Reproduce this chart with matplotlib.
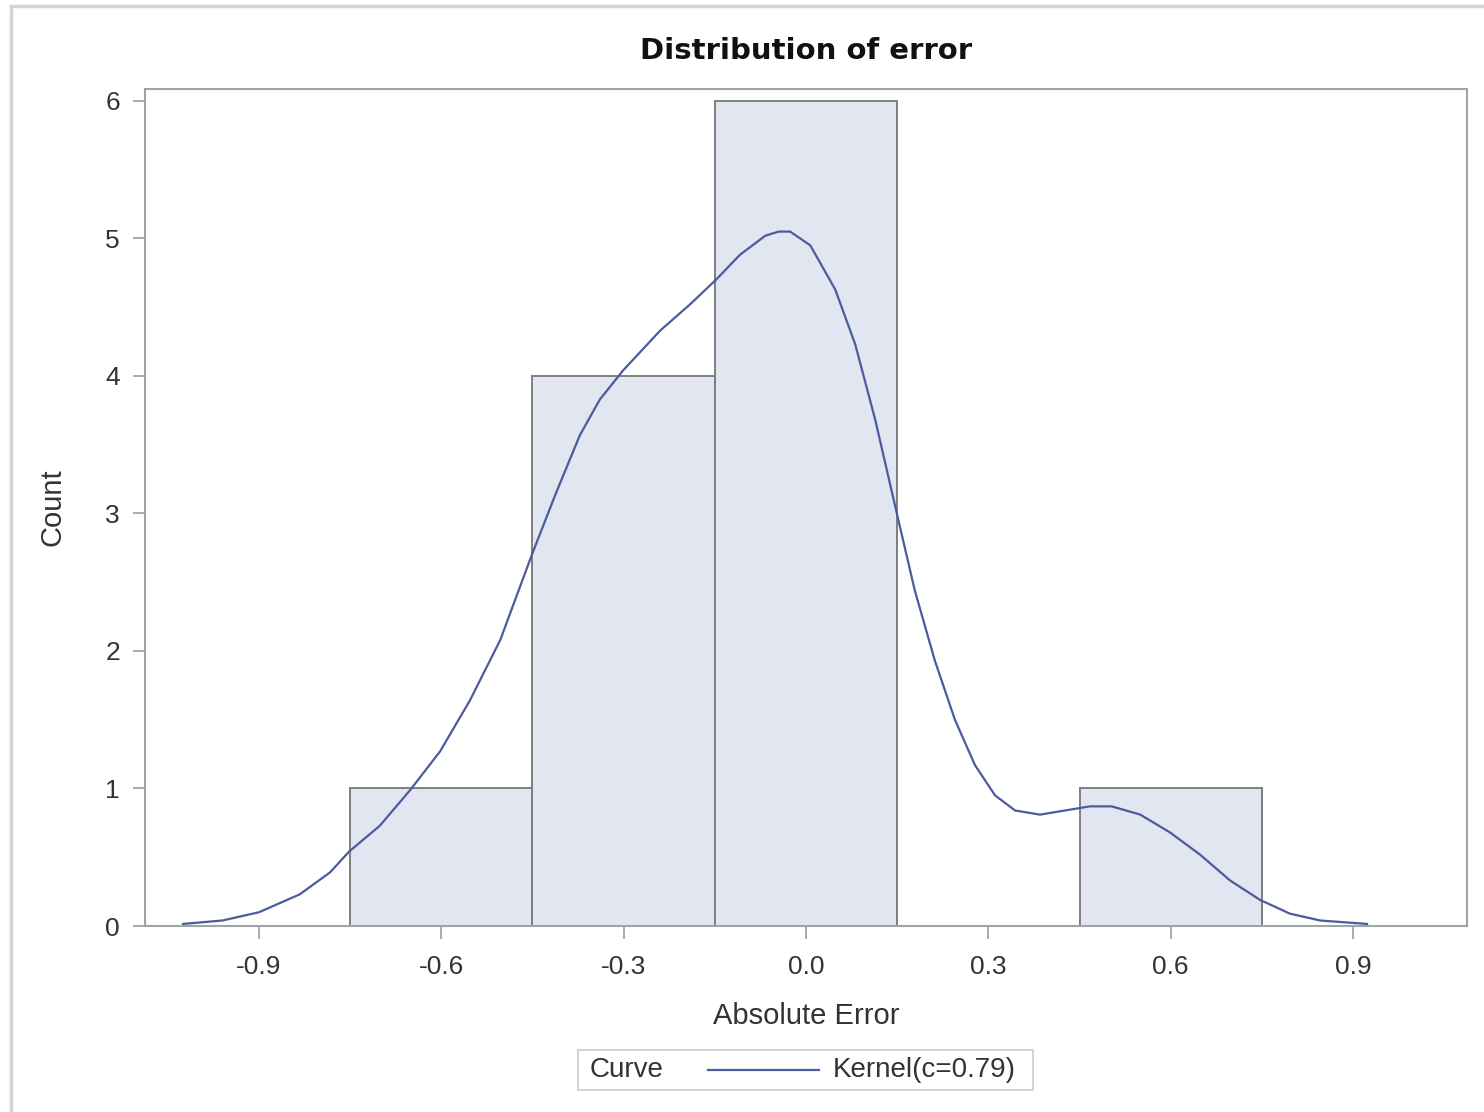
import matplotlib
matplotlib.use("Agg")
import matplotlib.pyplot as plt
from matplotlib.patches import Rectangle
from matplotlib.lines import Line2D

plt.rcParams['font.family'] = ['Liberation Sans', 'DejaVu Sans']

# Histogram data
bin_left = [-0.75, -0.45, -0.15, 0.15, 0.45]
bin_width = 0.3
counts = [1, 4, 6, 0, 1]

# Kernel density curve (scaled to counts)
kx = [-1.025, -0.96, -0.9, -0.833, -0.783, -0.752, -0.701, -0.651, -0.602, -0.553,
      -0.503, -0.451, -0.413, -0.372, -0.339, -0.301, -0.240, -0.191, -0.148, -0.109,
      -0.067, -0.045, -0.026, 0.007, 0.048, 0.081, 0.114, 0.150, 0.179, 0.212, 0.245,
      0.278, 0.311, 0.344, 0.385, 0.426, 0.467, 0.503, 0.550, 0.599, 0.648, 0.698,
      0.747, 0.796, 0.846, 0.923]
ky = [0.015, 0.04, 0.10, 0.23, 0.39, 0.54, 0.73, 0.99, 1.27, 1.64,
      2.08, 2.70, 3.13, 3.57, 3.83, 4.04, 4.33, 4.52, 4.70, 4.88,
      5.02, 5.05, 5.05, 4.95, 4.63, 4.23, 3.68, 2.99, 2.44, 1.93, 1.50,
      1.17, 0.95, 0.84, 0.81, 0.84, 0.87, 0.87, 0.81, 0.68, 0.52, 0.33,
      0.19, 0.09, 0.04, 0.015]

xticks = [-0.9, -0.6, -0.3, 0.0, 0.3, 0.6, 0.9]
yticks = [0, 1, 2, 3, 4, 5, 6]

W, H = 1484, 1112
fig = plt.figure(figsize=(W / 100, H / 100), dpi=100)

ax_l, ax_r, ax_t, ax_b = 145, 1467, 89, 926
ax = fig.add_axes([ax_l / W, 1 - ax_b / H, (ax_r - ax_l) / W, (ax_b - ax_t) / H])

ax.bar(bin_left, counts, width=bin_width, align='edge', color='#e1e6f0',
       edgecolor='#7f7f7f', linewidth=1.4, zorder=2)
ax.plot(kx, ky, color='#4b5b9e', linewidth=1.6, zorder=3)

ax.set_xlim(-1.0875, 1.0875)
ax.set_ylim(0, 6.087)
ax.set_xticks(xticks)
ax.set_xticklabels([f"{v:.1f}" for v in xticks])
ax.set_yticks(yticks)
ax.tick_params(axis='both', colors='#a0a4a8', labelcolor='#333333', labelsize=19,
               length=9, width=1.3)
ax.tick_params(axis='x', pad=12)
ax.tick_params(axis='y', pad=9)
for s in ax.spines.values():
    s.set_color('#a0a4a8')
    s.set_linewidth(1.5)

ax.set_xlabel('Absolute Error', fontsize=21, color='#333333')
ax.xaxis.set_label_coords(0.5, (926 - 1016) / 837)
ax.xaxis.label.set_va('center')
ax.set_ylabel('Count', fontsize=21, color='#333333')
ax.yaxis.set_label_coords((53 - 145) / 1322, 0.5)
ax.yaxis.label.set_va('center')
ax.set_title('Distribution of error', fontsize=21, fontweight='bold', color='#111111',
             family='DejaVu Sans', y=(926 - 51) / 837, pad=0, va='center')

# Outer border (light gray)
fig.add_artist(Line2D([11 / W, 1], [1 - 6 / H, 1 - 6 / H], color='#d4d4d4', linewidth=2.5,
                      transform=fig.transFigure))
fig.add_artist(Line2D([11 / W, 11 / W], [1 - 6 / H, 0], color='#d4d4d4', linewidth=2.5,
                      transform=fig.transFigure))

# Legend box
lx0, lx1, ly0, ly1 = 578, 1033, 1050, 1090
fig.add_artist(Rectangle((lx0 / W, 1 - ly1 / H), (lx1 - lx0) / W, (ly1 - ly0) / H,
                         transform=fig.transFigure, facecolor='white',
                         edgecolor='#d0d0d0', linewidth=1.3))
ymid = 1 - 1070 / H
fig.text(590 / W, ymid, 'Curve', fontsize=20, color='#333333', va='center', ha='left')
fig.add_artist(Line2D([708 / W, 819 / W], [ymid, ymid], color='#4b5b9e', linewidth=1.6,
                      transform=fig.transFigure))
fig.text(833 / W, ymid, 'Kernel(c=0.79)', fontsize=20, color='#333333', va='center', ha='left')

fig.savefig('out.png', dpi=100)
